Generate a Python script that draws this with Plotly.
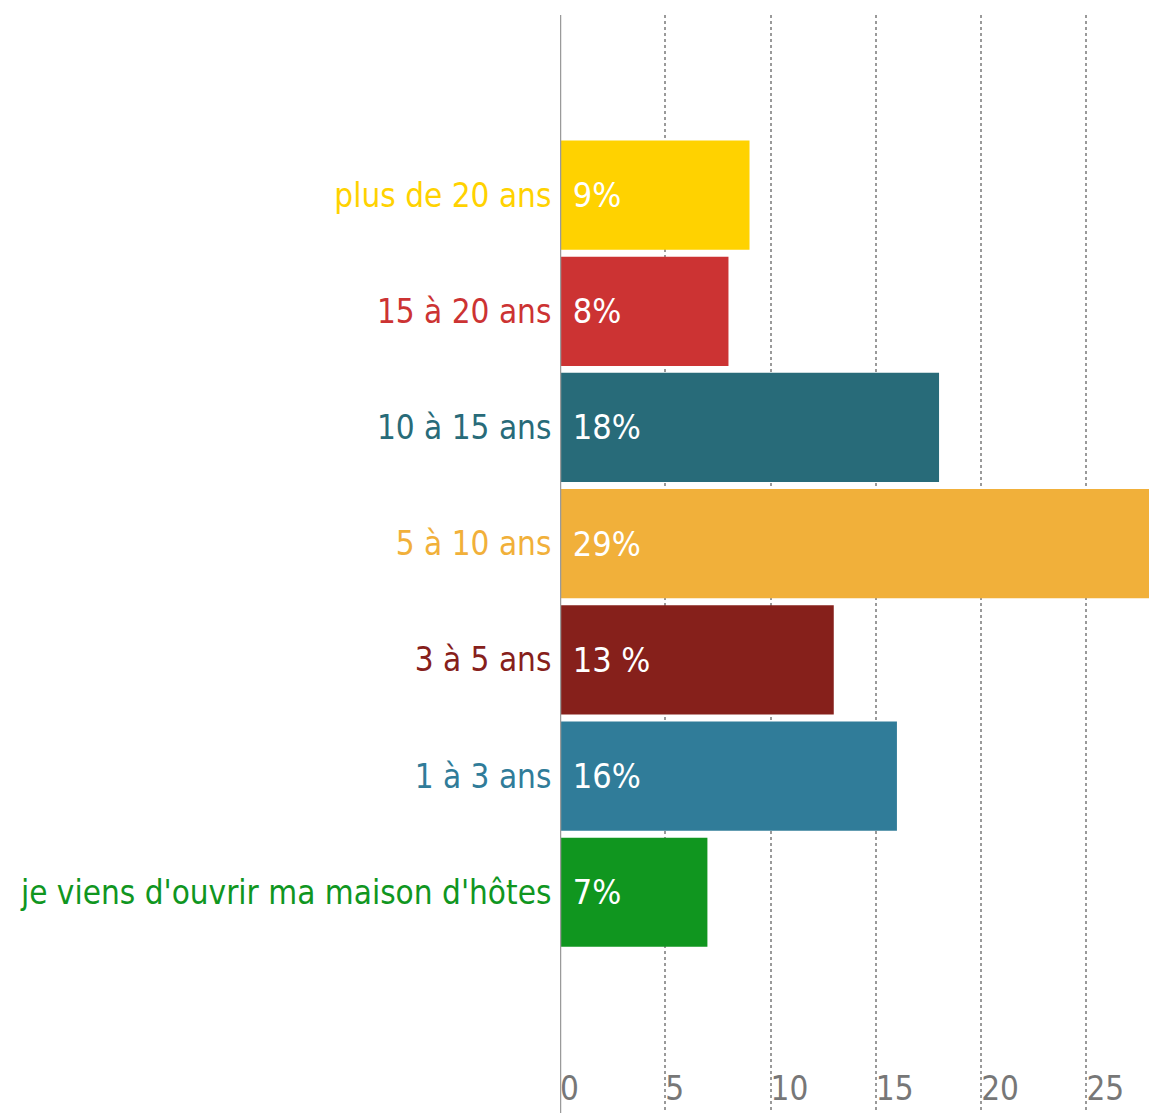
import plotly.graph_objects as go

categories = ["je viens d'ouvrir ma maison d'hôtes", "1 à 3 ans", "3 à 5 ans",
              "5 à 10 ans", "10 à 15 ans", "15 à 20 ans", "plus de 20 ans"]
values = [7, 16, 13, 29, 18, 8, 9]
value_labels = ["7%", "16%", "13 %", "29%", "18%", "8%", "9%"]
colors = ["#10961F", "#307C99", "#86201B", "#F1B03A", "#286B79", "#CC3333", "#FFD200"]
x_ticks = [0, 5, 10, 15, 20, 25]

FONT = "Liberation Sans Narrow, DejaVu Sans Condensed, Arial Narrow, sans-serif"
positions = list(range(len(categories)))

fig = go.Figure(go.Bar(
    x=values, y=positions, orientation="h",
    marker=dict(color=colors, line=dict(width=0)),
    text=[" " + t for t in value_labels],
    textposition="inside", insidetextanchor="start", textangle=0,
    insidetextfont=dict(color="white", size=34, family=FONT),
    width=0.94, hoverinfo="skip",
))

ticktext = [f"<span style='color:{c}'>{t}</span>" for t, c in zip(categories, colors)]

fig.update_layout(
    width=1157, height=1105,
    margin=dict(l=552, r=0, t=7, b=0, autoexpand=False),
    paper_bgcolor="white", plot_bgcolor="white",
    showlegend=False,
    font=dict(family=FONT),
    uniformtext=dict(minsize=10, mode="show"),
    xaxis=dict(
        range=[0, 28.73], tickvals=x_ticks, ticktext=[str(v) for v in x_ticks],
        showgrid=True, gridcolor="#9a9a9a", griddash="dot", gridwidth=1.5,
        zeroline=False, showline=False, automargin=False,
        ticklabelposition="inside right", ticklabelstandoff=0,
        tickfont=dict(size=33, color="#777777", family=FONT),
        ticks="",
    ),
    yaxis=dict(
        range=[-1.9, 7.55], tickvals=positions, ticktext=ticktext,
        showgrid=False, zeroline=False, automargin=False,
        showline=False,
        tickfont=dict(size=33, family=FONT),
        ticks="outside", ticklen=1, tickcolor="rgba(0,0,0,0)",
    ),
    shapes=[dict(type="line", xref="x", yref="paper", x0=0, x1=0, y0=0, y1=1,
                 line=dict(color="#9a9a9a", width=2.5), layer="above")],
)

fig.write_html("out.html")
